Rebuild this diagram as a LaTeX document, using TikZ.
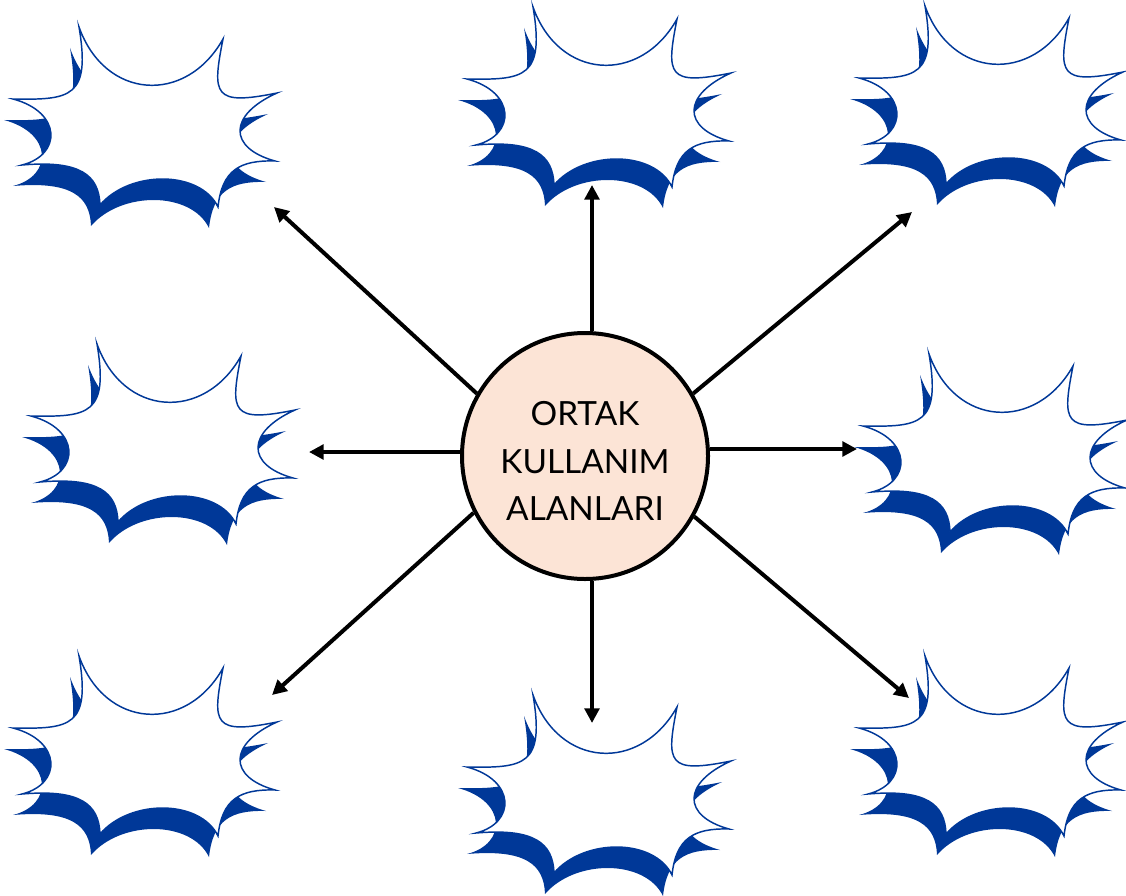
\documentclass[tikz,border=0pt]{standalone}
\usepackage{fontspec}
\setmainfont{Lato}
\usetikzlibrary{arrows.meta}
\definecolor{burstblue}{RGB}{0,56,152}
\definecolor{peach}{RGB}{252,228,214}
\newcommand\burstpath{(79,7) .. controls (105,80) and (186,85) .. (223,19)
 .. controls (212,75) and (213,86) .. (277,73)
 .. controls (228,95) and (228,128) .. (275,141)
 .. controls (240,140) and (222,150) .. (218,187)
 .. controls (200,150) and (130,150) .. (100,185)
 .. controls (99,155) and (80,140) .. (22,145)
 .. controls (62,135) and (62,92) .. (13,79)
 .. controls (70,80) and (91,78) .. (79,7) -- cycle}
\tikzset{
  burst/.pic={
    \fill[burstblue, shift={(-9,21)}] \burstpath;
    \filldraw[fill=white, draw=burstblue, line width=1.1pt, line join=miter, miter limit=20] \burstpath;
  },
  arr/.style={line width=3pt, -{Triangle[length=11pt,width=11pt]}},
  hub/.style={circle, draw=black, line width=3pt, fill=peach, minimum size=184.5pt, inner sep=0pt},
  hubtext/.style={align=center, font=\fontsize{25pt}{35.6pt}\selectfont, inner sep=0pt}
}
\begin{document}
\begin{tikzpicture}[x=0.75pt, y=-0.75pt]
\useasboundingbox (0,0) rectangle (1126,895);
\fill[white] (0,0) rectangle (1126,895);
% bursts
\pic at (0,20) {burst};
\pic at (454,0) {burst};
\pic at (846,-1) {burst};
\pic at (18,337) {burst};
\pic at (850,347) {burst};
\pic at (0,649) {burst};
\pic at (454,688) {burst};
\pic at (846,649) {burst};
% hub
\node[hub] (c) at (585,456) {};
\node[hubtext] (t) at (585,461) {ORTAK\\KULLANIM\\ALANLARI};
% arrow tips
\coordinate (aU) at (592,185);
\coordinate (aD) at (592,723);
\coordinate (aL) at (309,452);
\coordinate (aR) at (857,449);
\coordinate (aUL) at (274,207);
\coordinate (aUR) at (912,212);
\coordinate (aDL) at (272,695);
\coordinate (aDR) at (909,698);
% arrows
\draw[arr] (aU |- c.north) -- (aU);
\draw[arr] (aD |- c.south) -- (aD);
\draw[arr] (aL -| c.west) -- (aL);
\draw[arr] (aR -| c.east) -- (aR);
\draw[arr] (c.150) -- (aUL);
\draw[arr] (c.30) -- (aUR);
\draw[arr] (c.207) -- (aDL);
\draw[arr] (c.331) -- (aDR);
\end{tikzpicture}
\end{document}
